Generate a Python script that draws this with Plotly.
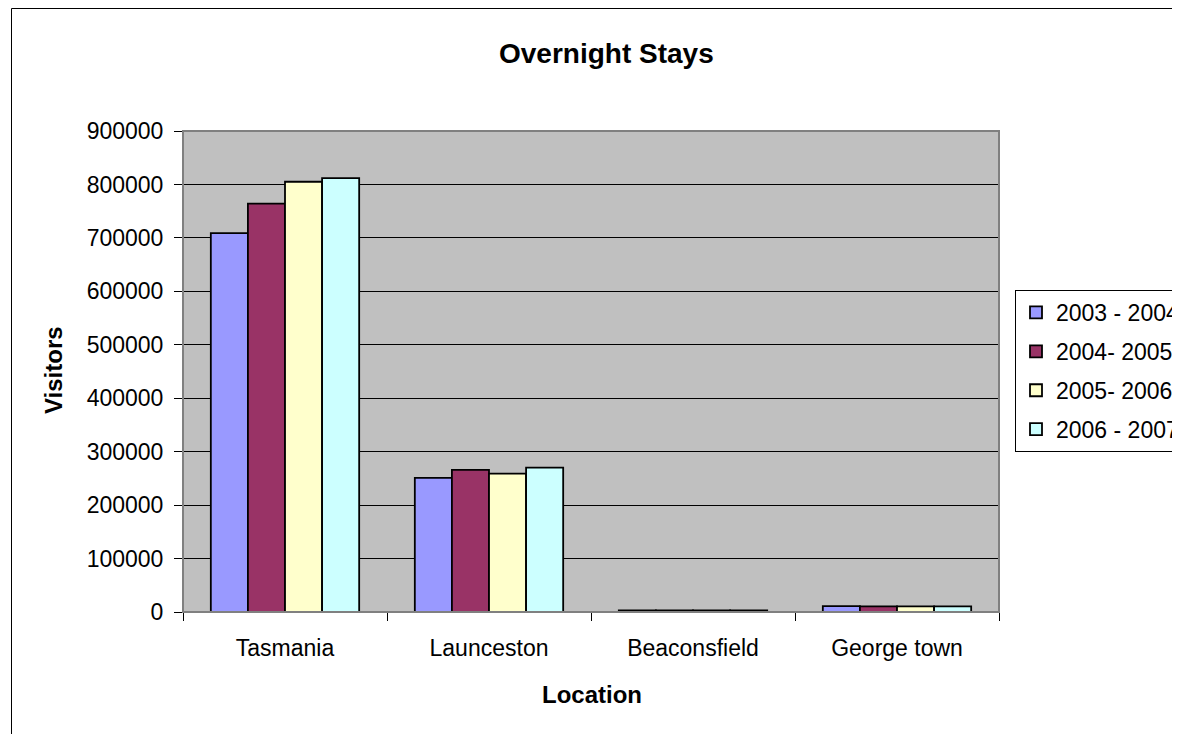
import plotly.graph_objects as go

categories = ["Tasmania", "Launceston", "Beaconsfield", "George town"]
series_names = ["2003 - 2004", "2004- 2005", "2005- 2006", "2006 - 2007"]
v_2003_04 = [709000, 251000, 3000, 11000]
v_2004_05 = [764000, 266000, 3000, 10500]
v_2005_06 = [805000, 259000, 3000, 10500]
v_2006_07 = [812000, 270000, 3000, 10500]
series_values = [v_2003_04, v_2004_05, v_2005_06, v_2006_07]
colors = ["#9999FF", "#993366", "#FFFFCC", "#CCFFFF"]
y_ticks = [0, 100000, 200000, 300000, 400000, 500000, 600000, 700000, 800000, 900000]

FONT = "Liberation Sans, Arial, sans-serif"

# page body has an 8px margin; work in page pixel coordinates and shift
OFF = 8
W, H = 1180 - OFF, 734 - OFF
L, R, T, B = 183 - OFF, 999 - OFF, 131 - OFF, 612 - OFF
pw, ph = R - L, B - T

def px(x):
    return (x - OFF - L) / pw

def py(y):
    return (B - (y - OFF)) / ph

fig = go.Figure()
for name, vals, col in zip(series_names, series_values, colors):
    fig.add_trace(go.Bar(
        x=categories, y=vals, name=name, legendgroup=name,
        marker=dict(color=col, line=dict(color="black", width=1.8)),
    ))

fig.update_layout(
    width=W, height=H,
    margin=dict(l=L, r=W - R, t=T, b=H - B, autoexpand=False),
    paper_bgcolor="white",
    plot_bgcolor="#C0C0C0",
    barmode="group",
    bargap=1.5 / 5.5,
    bargroupgap=0,
    font=dict(family=FONT, size=23, color="black"),
    showlegend=True,
    legend=dict(
        x=px(1015), y=py(290), xanchor="left", yanchor="top",
        bgcolor="white", bordercolor="black", borderwidth=1,
        font=dict(family=FONT, size=23, color="black"),
        tracegroupgap=6, traceorder="grouped", itemwidth=30,
    ),
    xaxis=dict(
        showgrid=False,
        showline=True, linecolor="black", linewidth=1,
        ticks="outside", tickson="boundaries", ticklen=8, tickcolor="black",
        tickfont=dict(family=FONT, size=23),
        ticklabelstandoff=15,
    ),
    yaxis=dict(
        range=[0, 900000],
        tickvals=y_ticks,
        ticktext=[str(v) for v in y_ticks],
        showgrid=True, gridcolor="black", gridwidth=1,
        showline=True, linecolor="black", linewidth=1,
        ticks="outside", ticklen=8, tickcolor="black",
        tickfont=dict(family=FONT, size=23),
        ticklabelstandoff=6,
        zeroline=False,
    ),
    shapes=[
        dict(type="rect", xref="paper", yref="paper",
             x0=0, x1=1, y0=0, y1=1,
             line=dict(color="#808080", width=2), fillcolor="rgba(0,0,0,0)"),
        dict(type="rect", xref="paper", yref="paper",
             x0=px(11.5), x1=px(1400), y0=py(8.5), y1=py(1000),
             line=dict(color="black", width=1), fillcolor="rgba(0,0,0,0)"),
    ],
    annotations=[
        dict(text="<b>Overnight Stays</b>", xref="paper", yref="paper",
             x=px(606), y=py(53), xanchor="center", yanchor="middle",
             showarrow=False,
             font=dict(family=FONT, size=28, color="black")),
        dict(text="<b>Visitors</b>", xref="paper", yref="paper",
             x=px(53), y=py(370), xanchor="center", yanchor="middle",
             showarrow=False, textangle=-90,
             font=dict(family=FONT, size=24, color="black")),
        dict(text="<b>Location</b>", xref="paper", yref="paper",
             x=px(592), y=py(694), xanchor="center", yanchor="middle",
             showarrow=False,
             font=dict(family=FONT, size=24, color="black")),
    ],
)

fig.write_html("out.html")
